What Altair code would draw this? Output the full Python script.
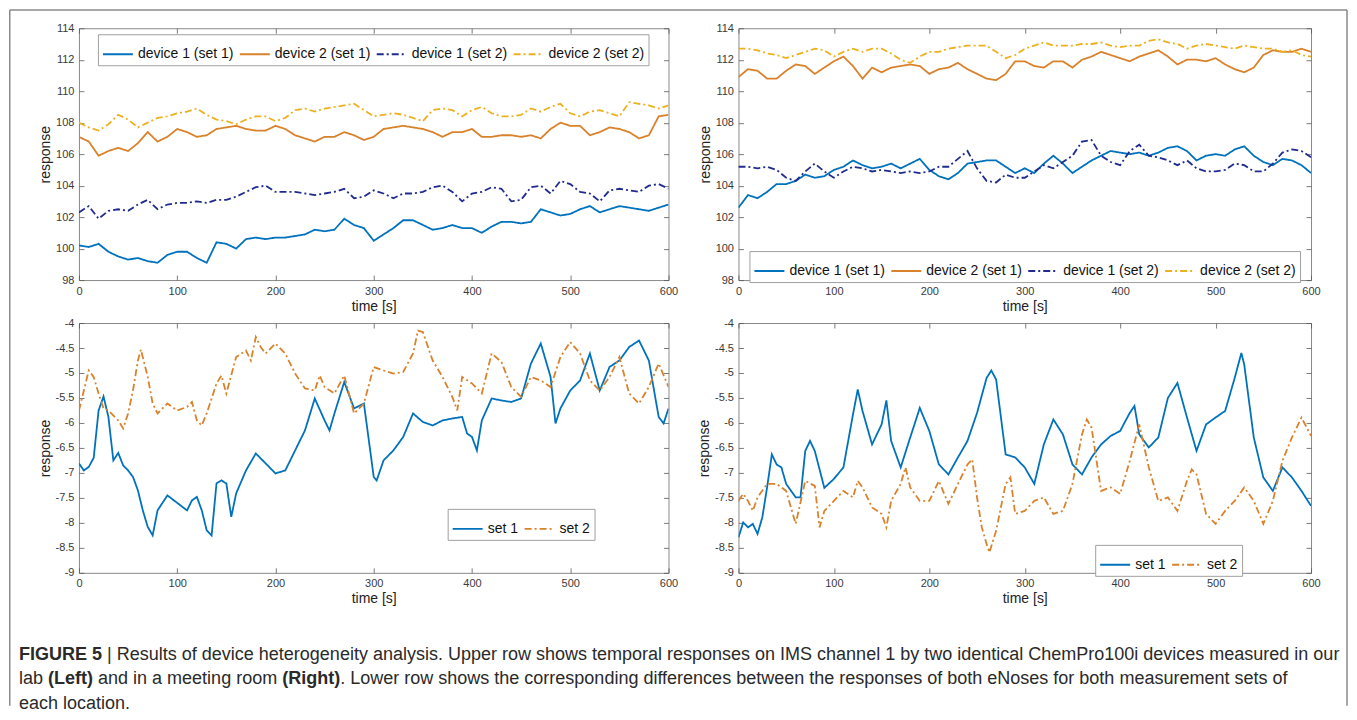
import altair as alt
import pandas as pd

FONT = "Liberation Sans"

# ---------------- data ----------------
T10 = list(range(0, 601, 10))
X_TICKS = [0, 100, 200, 300, 400, 500, 600]
Y_TICKS_TOP = [98, 100, 102, 104, 106, 108, 110, 112, 114]
Y_TICKS_BOT = [-9, -8.5, -8, -7.5, -7, -6.5, -6, -5.5, -5, -4.5, -4]

SERIES_TOP = ["device 1 (set 1)", "device 2 (set 1)", "device 1 (set 2)", "device 2 (set 2)"]
SERIES_BOT = ["set 1", "set 2"]
COLORS_TOP = ["#0072BD", "#D9822B", "#1F2B8E", "#EDB120"]
COLORS_BOT = ["#0072BD", "#D9822B"]

# lab (left, top)
lab_dev1_set1 = [100.2, 100.1, 100.3, 99.8, 99.5, 99.3, 99.4, 99.2, 99.1, 99.6,
                 99.8, 99.8, 99.4, 99.1, 100.4, 100.3, 100.0, 100.6, 100.7, 100.6,
                 100.7, 100.7, 100.8, 100.9, 101.2, 101.1, 101.2, 101.9, 101.5, 101.3,
                 100.5, 100.9, 101.3, 101.8, 101.8, 101.5, 101.2, 101.3, 101.5, 101.3,
                 101.3, 101.0, 101.4, 101.7, 101.7, 101.6, 101.7, 102.5, 102.3, 102.1,
                 102.2, 102.5, 102.7, 102.3, 102.5, 102.7, 102.6, 102.5, 102.4, 102.6, 102.8]
lab_dev2_set1 = [107.1, 106.8, 105.9, 106.2, 106.4, 106.2, 106.7, 107.4, 106.8, 107.1,
                 107.6, 107.4, 107.1, 107.2, 107.6, 107.7, 107.8, 107.6, 107.5, 107.5,
                 107.8, 107.6, 107.2, 107.0, 106.8, 107.1, 107.1, 107.4, 107.2, 106.9,
                 107.1, 107.6, 107.7, 107.8, 107.7, 107.6, 107.4, 107.1, 107.4, 107.4,
                 107.6, 107.1, 107.1, 107.2, 107.2, 107.1, 107.2, 107.0, 107.6, 108.0,
                 107.8, 107.8, 107.2, 107.4, 107.7, 107.6, 107.4, 107.0, 107.2, 108.4, 108.5]
lab_dev1_set2 = [102.3, 102.7, 101.9, 102.4, 102.5, 102.4, 102.8, 103.1, 102.5, 102.8,
                 102.9, 102.9, 103.0, 102.9, 103.1, 103.1, 103.3, 103.6, 103.9, 104.0,
                 103.6, 103.6, 103.6, 103.5, 103.4, 103.5, 103.6, 103.8, 103.2, 103.3,
                 103.7, 103.5, 103.2, 103.5, 103.5, 103.6, 103.9, 104.0, 103.6, 103.0,
                 103.5, 103.6, 103.9, 103.8, 103.0, 103.1, 103.9, 104.0, 103.5, 104.3,
                 104.1, 103.6, 103.5, 103.0, 103.7, 103.8, 103.7, 103.6, 104.0, 104.1, 103.8]
lab_dev2_set2 = [108.0, 107.7, 107.5, 107.9, 108.5, 108.2, 107.7, 108.0, 108.3, 108.4,
                 108.6, 108.7, 108.9, 108.5, 108.2, 108.1, 107.9, 108.2, 108.4, 108.4,
                 108.1, 108.3, 108.8, 108.9, 108.7, 108.9, 109.0, 109.1, 109.2, 108.8,
                 108.4, 108.5, 108.6, 108.5, 108.3, 108.1, 108.8, 108.9, 108.8, 108.4,
                 108.8, 109.0, 108.6, 108.4, 108.4, 108.5, 108.9, 108.7, 109.0, 109.2,
                 108.6, 108.4, 108.7, 108.8, 108.6, 108.4, 109.3, 109.2, 109.1, 108.9, 109.1]

# meeting room (right, top)
room_dev1_set1 = [102.6, 103.4, 103.2, 103.6, 104.1, 104.1, 104.3, 104.7, 104.5, 104.6,
                  105.0, 105.2, 105.6, 105.3, 105.1, 105.2, 105.4, 105.1, 105.4, 105.7,
                  105.0, 104.6, 104.4, 104.8, 105.4, 105.5, 105.6, 105.6, 105.2, 104.8,
                  105.1, 104.8, 105.4, 105.9, 105.4, 104.8, 105.2, 105.6, 105.9, 106.2,
                  106.1, 106.0, 106.1, 105.9, 106.1, 106.4, 106.5, 106.2, 105.6, 105.9,
                  106.0, 105.9, 106.3, 106.5, 105.9, 105.5, 105.3, 105.7, 105.6, 105.3, 104.8]
room_dev2_set1 = [110.9, 111.4, 111.3, 110.8, 110.8, 111.3, 111.7, 111.6, 111.1, 111.5,
                  111.9, 112.2, 111.6, 110.8, 111.5, 111.2, 111.5, 111.6, 111.7, 111.6,
                  111.1, 111.4, 111.5, 111.8, 111.4, 111.1, 110.8, 110.7, 111.1, 111.9,
                  111.9, 111.6, 111.5, 111.9, 111.9, 111.5, 112.0, 112.2, 112.5, 112.3,
                  112.1, 111.9, 112.2, 112.4, 112.6, 112.2, 111.7, 112.0, 112.0, 111.9,
                  112.1, 111.7, 111.4, 111.2, 111.5, 112.3, 112.6, 112.5, 112.5, 112.7, 112.5]
room_dev1_set2 = [105.2, 105.2, 105.1, 105.2, 105.0, 104.5, 104.3, 104.9, 105.4, 104.9,
                  104.5, 104.9, 105.2, 105.1, 104.9, 105.0, 104.9, 104.8, 104.9, 104.8,
                  104.9, 105.2, 105.2, 105.7, 106.2, 105.1, 104.3, 104.2, 104.7, 104.5,
                  104.5, 104.9, 105.3, 105.1, 105.5, 105.9, 106.8, 106.9, 105.9, 105.5,
                  105.3, 106.2, 106.6, 105.9, 105.8, 105.6, 105.3, 105.6, 105.1, 104.9,
                  104.9, 105.0, 105.4, 105.3, 104.9, 104.9, 105.4, 106.1, 106.3, 106.2, 105.8]
room_dev2_set2 = [112.7, 112.7, 112.6, 112.4, 112.3, 112.1, 112.3, 112.5, 112.7, 112.6,
                  112.2, 112.5, 112.7, 112.5, 112.7, 112.7, 112.4, 112.0, 111.8, 112.2,
                  112.5, 112.5, 112.7, 112.8, 112.9, 112.9, 112.9, 112.5, 112.1, 112.3,
                  112.7, 112.9, 113.1, 112.9, 112.9, 112.9, 113.0, 113.0, 113.1, 112.9,
                  112.8, 112.9, 112.9, 113.2, 113.3, 113.1, 113.0, 112.7, 112.9, 113.0,
                  112.9, 112.8, 112.7, 112.9, 112.8, 112.7, 112.7, 112.5, 112.6, 112.3, 112.2]

# differences, lab (left, bottom)
lab_diff1_t = [0, 5, 10, 15, 20, 25, 30, 35, 40, 45, 50, 55, 60, 65, 70, 75, 80, 90, 100, 110,
               115, 120, 125, 130, 135, 140, 145, 150, 155, 160, 170, 180, 190, 200, 210, 220, 230, 240, 250, 255,
               260, 270, 280, 290, 300, 303, 310, 320, 330, 340, 350, 360, 370, 380, 390, 395, 400, 405, 410, 420,
               430, 440, 450, 460, 470, 480, 485, 490, 500, 510, 520, 530, 540, 550, 560, 570, 580, 590, 595, 600]
lab_diff1_v = [-6.81, -6.95, -6.88, -6.7, -5.75, -5.47, -5.88, -6.75, -6.6, -6.85,
               -6.95, -7.08, -7.35, -7.75, -8.08, -8.25, -7.75, -7.45, -7.6, -7.75,
               -7.55, -7.48, -7.75, -8.15, -8.25, -7.21, -7.15, -7.21, -7.88, -7.41,
               -6.95, -6.61, -6.81, -7.01, -6.95, -6.55, -6.15, -5.51, -5.95, -6.15,
               -5.81, -5.18, -5.71, -5.61, -7.08, -7.15, -6.75, -6.55, -6.28, -5.81,
               -5.98, -6.05, -5.95, -5.91, -5.88, -6.21, -6.28, -6.55, -5.95, -5.51,
               -5.55, -5.58, -5.51, -4.81, -4.41, -5.08, -6.01, -5.71, -5.35, -5.15,
               -4.61, -5.35, -4.88, -4.75, -4.48, -4.35, -4.75, -5.88, -6.01, -5.71]
lab_diff2_t = [0, 5, 10, 15, 20, 25, 30, 40, 45, 50, 55, 60, 63, 70, 75, 80, 90, 100,
               110, 115, 120, 125, 130, 140, 145, 150, 160, 170, 175, 180, 185, 190, 200, 210, 220,
               230, 240, 245, 250, 260, 270, 280, 290, 300, 310, 320, 330, 340, 345, 350, 360, 370, 380,
               385, 390, 400, 410, 420, 430, 440, 450, 460, 470, 480, 490, 500, 510, 520, 530, 540, 550,
               560, 570, 580, 590, 600]
lab_diff2_v = [-5.75, -5.35, -4.95, -5.08, -5.41, -5.71, -5.75, -5.95, -6.11, -5.81, -5.35, -4.75, -4.53,
               -5.08, -5.61, -5.81, -5.61, -5.75, -5.68, -5.58, -5.95, -6.05, -5.81,
               -5.21, -5.05, -5.41, -4.68, -4.55, -4.75, -4.28, -4.48, -4.61, -4.41, -4.61, -5.01,
               -5.31, -5.35, -5.05, -5.28, -5.41, -5.05, -5.81, -5.61, -4.88, -4.95, -5.01, -4.98,
               -4.61, -4.15, -4.18, -4.75, -5.08, -5.48, -5.75, -5.08, -5.21, -5.41, -4.61, -4.78,
               -5.28, -5.48, -5.08, -5.15, -5.28, -4.68, -4.38, -4.61, -5.15, -5.35, -5.08, -4.68,
               -5.41, -5.61, -5.28, -4.81, -5.28]

# differences, meeting room (right, bottom)
room_diff1_t = [0, 5, 10, 15, 20, 25, 30, 35, 40, 45, 50, 60, 65, 70, 75, 80, 90, 100, 110, 120,
                125, 130, 140, 150, 155, 160, 170, 180, 190, 200, 210, 220, 230, 240, 250, 260, 265, 270, 280, 290,
                300, 310, 320, 330, 340, 350, 360, 370, 380, 390, 400, 410, 415, 420, 430, 440, 450, 460, 470, 480,
                490, 500, 510, 520, 527, 530, 540, 550, 560, 570, 580, 590, 600]
room_diff1_v = [-8.29, -7.99, -8.09, -8.02, -8.22, -7.89, -7.29, -6.63, -6.83, -6.89,
                -7.22, -7.49, -7.49, -6.56, -6.36, -6.56, -7.3, -7.12, -6.89, -5.83,
                -5.33, -5.76, -6.43, -6.03, -5.55, -6.36, -6.89, -6.29, -5.70, -6.16,
                -6.83, -7.03, -6.69, -6.36, -5.8, -5.1, -4.95, -5.13, -6.63, -6.69,
                -6.89, -7.22, -6.43, -5.93, -6.23, -6.83, -7.03, -6.69, -6.43, -6.26,
                -6.16, -5.80, -5.66, -6.23, -6.49, -6.29, -5.50, -5.20, -5.89, -6.56,
                -6.03, -5.89, -5.76, -5.10, -4.60, -4.83, -6.29, -7.09, -7.36, -6.89,
                -7.09, -7.36, -7.66]
room_diff2_t = [0, 5, 10, 15, 20, 30, 40, 50, 60, 70, 80, 85, 90, 100, 110, 120, 125, 130, 140, 150,
                155, 160, 170, 175, 180, 190, 200, 210, 220, 230, 240, 245, 250, 255, 260, 263, 270, 280, 285, 290,
                300, 310, 320, 330, 340, 350, 360, 365, 370, 380, 390, 400, 410, 420, 430, 440, 450, 460, 470, 475,
                480, 490, 500, 510, 520, 530, 540, 550, 560, 570, 580, 590, 600]
room_diff2_v = [-7.56, -7.42, -7.56, -7.76, -7.49, -7.22, -7.22, -7.36, -8.02, -7.16,
                -7.26, -8.09, -7.76, -7.56, -7.36, -7.49, -7.16, -7.29, -7.69, -7.82,
                -8.09, -7.56, -7.22, -6.89, -7.29, -7.56, -7.56, -7.16, -7.62, -7.22,
                -6.83, -6.73, -7.49, -8.09, -8.42, -8.59, -8.16, -7.22, -7.09, -7.82,
                -7.76, -7.56, -7.49, -7.82, -7.76, -7.22, -6.23, -5.93, -6.09, -7.36,
                -7.29, -7.42, -6.76, -6.03, -6.89, -7.56, -7.49, -7.76, -7.16, -6.93,
                -7.03, -7.82, -8.02, -7.76, -7.56, -7.29, -7.56, -8.02, -7.56, -6.76,
                -6.29, -5.89, -6.26]

CAPTION_LINES = [
    [("FIGURE 5", True),
     (" | Results of device heterogeneity analysis. Upper row shows temporal responses on IMS channel 1 by two identical ChemPro100i devices measured in our", False)],
    [("lab ", False), ("(Left)", True), (" and in a meeting room ", False), ("(Right)", True),
     (". Lower row shows the corresponding differences between the responses of both eNoses for both measurement sets of", False)],
    [("each location.", False)],
]

# ---------------- helpers ----------------
SOLID = [1, 0]
DASHDOT = [7, 3, 2, 3]
TICK_C = "#5a5a5a"
FRAME_C = "#8a8a8a"
ORIGIN_X, ORIGIN_Y = 78.0, 27.0      # page position of the top-left plot area
ROW_GAP, COL_GAP = 43, 70
W_L, W_R, H_T, H_B = 590, 573, 252, 250


def top_df(values):
    rows = []
    for name, vals in zip(SERIES_TOP, values):
        for t, v in zip(T10, vals):
            rows.append({"t": t, "v": v, "s": name})
    return pd.DataFrame(rows)


def bot_df(pairs):
    rows = []
    for name, (ts, vs) in zip(SERIES_BOT, pairs):
        for t, v in zip(ts, vs):
            rows.append({"t": t, "v": v, "s": name})
    return pd.DataFrame(rows)


def panel(df, series, colors, dashes, ydom, yticks, w, h, lx, ly, cols, extra=()):
    legend = alt.Legend(orient="none", legendX=lx, legendY=ly, direction="horizontal", columns=cols,
                        title=None, symbolType="stroke", symbolSize=900, symbolStrokeWidth=2,
                        labelFont=FONT, labelFontSize=14, labelColor="#111111", labelLimit=400,
                        strokeColor="#a0a0a0", fillColor="#ffffff", padding=4, columnPadding=2,
                        labelOffset=4, rowPadding=0)
    common = dict(ticks=False, tickSize=0, domain=False, grid=True, gridColor=TICK_C, gridWidth=0.8,
                  gridOpacity=1, labelFlush=False, labelOverlap=False, labelFont=FONT, labelFontSize=11,
                  labelColor="#3a3a3a", titleFont=FONT, titleFontSize=14, titleColor="#222222",
                  titleFontWeight="normal", labelExpr="datum.value + ''")
    xaxis = alt.Axis(values=X_TICKS, title="time [s]", gridDash=[5, h - 10, 5, 4000],
                     labelPadding=5, titlePadding=3, **common)
    yaxis = alt.Axis(values=yticks, title="response", gridDash=[5, w - 10, 5, 4000],
                     labelPadding=5, titlePadding=3, **common)
    lines = alt.Chart(df).mark_line(strokeWidth=1.8, clip=True).encode(
        x=alt.X("t:Q", scale=alt.Scale(domain=[0, 600], nice=False, zero=False), axis=xaxis),
        y=alt.Y("v:Q", scale=alt.Scale(domain=ydom, nice=False, zero=False), axis=yaxis),
        color=alt.Color("s:N", scale=alt.Scale(domain=series, range=colors), legend=legend),
        strokeDash=alt.StrokeDash("s:N", scale=alt.Scale(domain=series, range=dashes), legend=legend),
    )
    return alt.layer(lines, *extra).properties(width=w, height=h)


def rule(x, x2, y, y2):
    return alt.Chart(pd.DataFrame({"k": [0]})).mark_rule(
        color=FRAME_C, strokeWidth=1.5, clip=False).encode(
        x=alt.value(x), x2=alt.value(x2), y=alt.value(y), y2=alt.value(y2))


# Arial / Liberation Sans advance widths (1/1000 em)
LOW = "abcdefghijklmnopqrstuvwxyz"
UP = "ABCDEFGHIJKLMNOPQRSTUVWXYZ"
REG = dict(zip(LOW, [556, 556, 500, 556, 556, 278, 556, 556, 222, 222, 500, 222, 833, 556, 556, 556, 556,
                     333, 500, 278, 556, 500, 722, 500, 500, 500]))
REG.update(zip(UP, [667, 667, 722, 722, 667, 611, 778, 722, 278, 500, 667, 556, 833, 722, 778, 667, 778,
                    722, 667, 611, 722, 667, 944, 667, 667, 611]))
REG.update({c: 556 for c in "0123456789"})
REG.update({" ": 278, ".": 278, ",": 278, "(": 333, ")": 333, "|": 260, "-": 333})
BOLD = dict(zip(LOW, [556, 611, 556, 611, 556, 333, 611, 611, 278, 278, 556, 278, 889, 611, 611, 611, 611,
                      389, 556, 333, 611, 556, 778, 556, 556, 500]))
BOLD.update(zip(UP, [722, 722, 722, 722, 667, 611, 778, 722, 278, 556, 722, 611, 833, 722, 778, 667, 778,
                     722, 667, 611, 722, 667, 944, 667, 667, 611]))
BOLD.update({c: 556 for c in "0123456789"})
BOLD.update({" ": 278, ".": 278, ",": 278, "(": 333, ")": 333, "|": 280, "-": 333})


def em(s, bold):
    tab = BOLD if bold else REG
    return sum(tab.get(c, 556) for c in s) / 1000.0


CAP_LEFT, CAP_RIGHT = 18.0, 1340.0
CAP_Y = [654.0, 678.5, 703.0]
FS = (CAP_RIGHT - CAP_LEFT) / sum(em(s, b) for s, b in CAPTION_LINES[0])

BL_X, BL_Y = ORIGIN_X, ORIGIN_Y + H_T + ROW_GAP
caption_layers = []
for line, py in zip(CAPTION_LINES, CAP_Y):
    cur = CAP_LEFT
    for seg, bold in line:
        lead = len(seg) - len(seg.lstrip(" "))
        cur += em(" " * lead, bold) * FS
        body = seg.strip(" ")
        caption_layers.append(
            alt.Chart(pd.DataFrame({"txt": [body]})).mark_text(
                align="left", baseline="middle", font=FONT, fontSize=FS,
                fontWeight="bold" if bold else "normal", color="#2a2a2a", clip=False).encode(
                x=alt.value(cur - BL_X), y=alt.value(py - BL_Y), text="txt:N"))
        cur += em(body, bold) * FS
        trail = len(seg) - len(seg.rstrip(" "))
        cur += em(" " * trail, bold) * FS

# outer frame (page coords -> top-left panel coords)
F_L, F_T, F_R, F_B = 8.75, 8.75, 1347.0, 705.0
frame = [
    rule(F_L - ORIGIN_X, F_L - ORIGIN_X, F_T - ORIGIN_Y, F_B - ORIGIN_Y),
    rule(F_L - ORIGIN_X, F_R - ORIGIN_X, F_T - ORIGIN_Y, F_T - ORIGIN_Y),
    rule(F_R - ORIGIN_X, F_R - ORIGIN_X, F_T - ORIGIN_Y, F_B - ORIGIN_Y),
]

DASH_TOP = [SOLID, SOLID, DASHDOT, DASHDOT]
DASH_BOT = [SOLID, DASHDOT]

tl = panel(top_df([lab_dev1_set1, lab_dev2_set1, lab_dev1_set2, lab_dev2_set2]),
           SERIES_TOP, COLORS_TOP, DASH_TOP, [98, 114], Y_TICKS_TOP, W_L, H_T, 19, 6, 4, frame)
tr = panel(top_df([room_dev1_set1, room_dev2_set1, room_dev1_set2, room_dev2_set2]),
           SERIES_TOP, COLORS_TOP, DASH_TOP, [98, 114], Y_TICKS_TOP, W_R, H_T, 11, 223, 4)
bl = panel(bot_df([(lab_diff1_t, lab_diff1_v), (lab_diff2_t, lab_diff2_v)]),
           SERIES_BOT, COLORS_BOT, DASH_BOT, [-9, -4], Y_TICKS_BOT, W_L, H_B, 369, 186, 2, caption_layers)
br = panel(bot_df([(room_diff1_t, room_diff1_v), (room_diff2_t, room_diff2_v)]),
           SERIES_BOT, COLORS_BOT, DASH_BOT, [-9, -4], Y_TICKS_BOT, W_R, H_B, 357, 222, 2)

chart = alt.concat(
    tl, tr, bl, br, columns=2, spacing={"row": ROW_GAP, "column": COL_GAP}, bounds="flush",
    padding=0, background="white",
).resolve_scale(
    x="independent", y="independent", color="independent", strokeDash="independent"
).resolve_legend(
    color="independent", strokeDash="independent"
).configure_view(stroke="#8a8a8a", strokeWidth=1)

chart.save("out.html", embed_options={"renderer": "svg", "actions": False})
